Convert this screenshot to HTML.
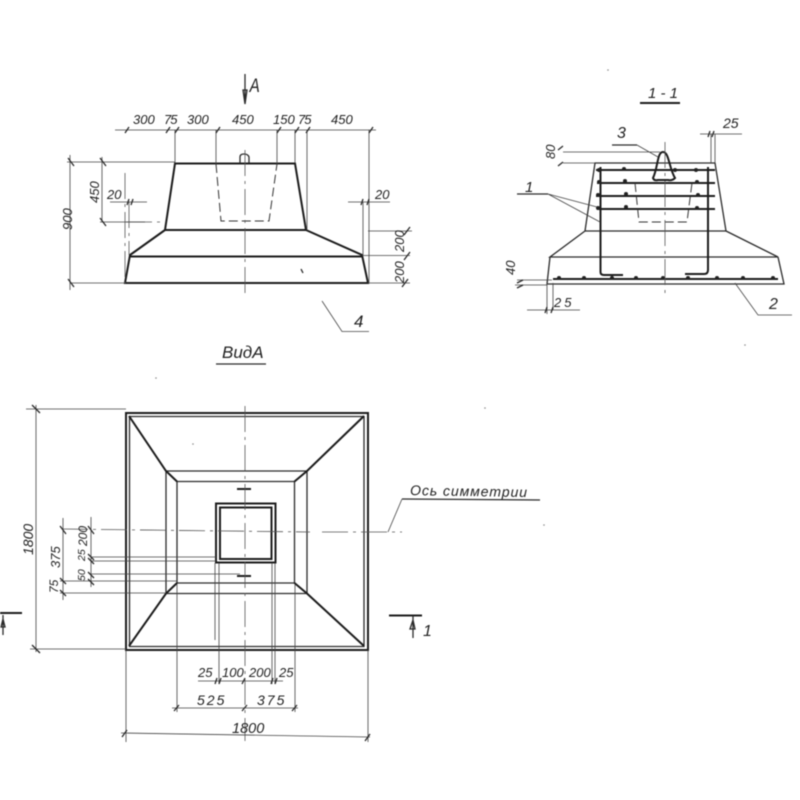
<!DOCTYPE html>
<html><head><meta charset="utf-8"><style>
html,body{margin:0;padding:0;background:#fff}
svg{display:block;filter:blur(.4px);font-size:13px}
text{font-family:"Liberation Sans",sans-serif;font-style:italic;fill:#222}
.h{stroke:#1c1c1c;stroke-width:2;fill:none}
.m{stroke:#2a2a2a;stroke-width:1.3;fill:none}
.t{stroke:#444;stroke-width:.8;fill:none}
.d{stroke:#333;stroke-width:1;fill:none;stroke-dasharray:9 4}
.c{stroke:#555;stroke-width:.8;fill:none;stroke-dasharray:26 5 3 5}
</style></head><body>
<svg width="800" height="800" viewBox="0 0 800 800" xmlns="http://www.w3.org/2000/svg">
<!-- FRONT VIEW -->
<path class="h" d="M175 163.5H295L306 230H165ZM165 230L130 255L125 283H368L362 255L306 230M130 256.5H362"/>
<path class="m" d="M240 163v-6q0-3 4-3t5 3v6"/>
<path class="d" d="M216 164L221 221H269L277 164"/>
<path class="c" d="M245 150V295M126 222H165"/>
<path class="c" d="M125 173V283M129 202V255"/>
<path class="m" d="M245 74V104M247 90l-2 14-2-14z"/>
<text x="312" y="92" font-size="19" transform="scale(.8 1)">A</text>
<path class="t" d="M115 130H376M175 130V163M216 130V164M277 130V164M295 130V163M307 130V230M369 130V283M67 162H175M100 222H145M70 283H126M368 231H412M362 255.5H410M368 283H410M70 155V290M102 157V222M110 202H147M348 202H390M363 202V255"/>
<path class="m" d="M125 133l4-6M166 133l4-6M175 133l4-6M216 133l4-6M277 133l4-6M295 133l4-6M306 133l4-6M369 133l4-6M68 158l6 8M100 158l6 8M100 218l6 8M68 279l6 8M127 205l2-6M131 205l2-6M361 205l2-6M367 205l2-6M404 235l6-8M404 260l6-8M402 287l6-8"/>
<text x="133" y="124">300</text><text x="164" y="124" letter-spacing="-1">75</text><text x="187" y="124">300</text>
<text x="232" y="124">450</text><text x="273" y="124">150</text><text x="298" y="124" letter-spacing="-1">75</text><text x="331" y="124">450</text>
<text transform="translate(99 203) rotate(-90)">450</text>
<text transform="translate(72 230) rotate(-90)">900</text>
<text x="107" y="199">20</text><text x="375" y="199">20</text>
<text transform="translate(404 252) rotate(-90)">200</text>
<text transform="translate(404 283) rotate(-90)">200</text>
<path class="t" d="M322 301L342 331.5H369"/>
<text x="354" y="327" font-size="17">4</text>
<path class="m" d="M301 269l2 4"/>
<!-- VIEW A TITLE -->
<text x="222" y="358" font-size="17">ВидА</text>
<path class="m" d="M216 364H266" stroke-width="1.5"/>
<!-- SECTION 1-1 -->
<text x="648" y="98" font-size="15">1 - 1</text>
<path class="h" d="M640 103H680"/>
<path class="m" d="M595 163H715L726 231H585ZM585 231L550 257H778L726 231M550 257L547 284H784L778 257"/>
<path class="h" d="M596 170H715M597 183H715M596 196H715M597 209H715" stroke-width="1.5"/>
<path class="h" d="M600.5 167V272Q600.5 275 604 275H623M708 167V270Q708 274 704 274H685M553 279H778" stroke-width="1.6"/>
<path class="h" d="M653 178C658 168 657 152 663 152C669 152 669 168 675 178Q672 181 668 180H658Q654 181 653 178Z" stroke-width="1.5"/>
<g fill="#222"><circle cx="599" cy="170" r="2"/><circle cx="624" cy="169" r="2"/><circle cx="675" cy="170" r="2"/><circle cx="696" cy="170" r="2"/><circle cx="599" cy="182" r="2"/><circle cx="625" cy="181" r="2"/><circle cx="697" cy="182" r="2"/><circle cx="598" cy="195" r="2"/><circle cx="626" cy="194" r="2"/><circle cx="698" cy="195" r="2"/><circle cx="598" cy="208" r="2"/><circle cx="626" cy="207" r="2"/><circle cx="697" cy="208" r="2"/><circle cx="559" cy="278" r="2"/><circle cx="584" cy="278" r="2"/><circle cx="612" cy="278" r="2"/><circle cx="636" cy="278" r="2"/><circle cx="663" cy="278" r="2"/><circle cx="688" cy="278" r="2"/><circle cx="717" cy="278" r="2"/><circle cx="743" cy="278" r="2"/><circle cx="773" cy="278" r="2"/></g>
<path class="d" d="M635 183L639 222H687L692 183"/>
<path class="c" d="M665 142V293"/>
<path class="t" d="M563 152H660M563 163H595M637 145L658 157M700 134H742M711 134V163M715 134V163M517 280H552M515 285H547M547 283V314M553 283V310M527 310H580M735 283L758 315H792"/>
<path class="m" d="M612 145H637" stroke-width="1.6"/>
<path class="m" d="M517 194H548"/>
<path class="t" d="M548 194L597 207M548 194L600 222"/>
<path class="m" d="M558 150l5-4M558 166l5-4M708 137l2-6M712 137l2-6M517 283l6-3M517 288l6-3M545 313l2-6M551 313l2-6"/>
<text x="617" y="138" font-size="16">3</text>
<text transform="translate(555 159) rotate(-90)">80</text>
<text x="723" y="128" font-size="14">25</text>
<text x="525" y="192" font-size="15">1</text>
<text transform="translate(515 275) rotate(-90)">40</text>
<text x="554" y="307" letter-spacing="3">25</text>
<text x="769" y="309" font-size="16">2</text>
<!-- PLAN VIEW -->
<path class="h" d="M126 413H368V650H126Z"/>
<path class="m" d="M129.5 416.5H364V646.5H129.5Z"/>
<path class="m" d="M166 471H307V593.5H166ZM177 481.5H294.5V583H177Z" stroke-width="1.5"/>
<path class="h" d="M129 416L166 471L177 481.5M364 416L307 471L294.5 481.5M129 646L166 593.5L177 583M364 646L307 593.5L294.5 583"/>
<path class="h" d="M216 503.5H275.5V562.5H216ZM220 507.5H271.5V559H220Z" stroke-width="1.6"/>
<path class="h" d="M237 489H251M237 576H251" stroke-width="1.6"/>
<path class="c" d="M245 406V741"/>
<path class="c" d="M322 532H402M62 529L310 532"/>
<path class="t" d="M26 409H126M30 649H126M36 405V652M63 518V600M91 517V587M91 557H216M91 561H216M91 574H240M60 581H177M60 593H166M126 650V742M368 650V742M177 584V712M295 584V712M215 563V640M219 563V684M272 563V684M275 563V684M198 681H283M172 708H298M121 733L370 737"/>
<path class="m" d="M32 405l8 8M32 645l8 8M60 526l6 8M88 526l6 8M88 554l6 6M88 558l6 6M88 572l6 6M88 579l6 6M60 578l6 6M60 590l6 6M215 684l2-6M219 684l2-6M242 684l3-6M271 684l2-6M275 684l2-6M174 711l5-6M242 711l5-6M292 711l5-6M122 737l5-7M365 741l5-7"/>
<text transform="translate(33 555) rotate(-90)" font-size="14">1800</text>
<text transform="translate(60 568) rotate(-90)">375</text>
<text transform="translate(87 546) rotate(-90)" font-size="12">200</text>
<text transform="translate(85 561) rotate(-90)" font-size="10.5">25</text>
<text transform="translate(85 581) rotate(-90)" font-size="10.5">50</text>
<text transform="translate(58 593) rotate(-90)" font-size="12">75</text>
<text x="198" y="677">25</text><text x="222" y="677">100</text><text x="249" y="677">200</text><text x="279" y="677">25</text>
<text x="197" y="705" font-size="14" letter-spacing="2">525</text><text x="257" y="705" font-size="14" letter-spacing="2">375</text>
<text x="232" y="733" font-size="14.5">1800</text>
<text x="410" y="495" font-size="14" textLength="117" lengthAdjust="spacing" transform="rotate(1 410 495)">Ось симметрии</text>
<path class="m" d="M402 499L540 500"/>
<path class="t" d="M402 499L388 532"/>
<path class="h" d="M0 613H22" stroke-width="1.5"/>
<path class="m" d="M3 615V635M3 619l-2 8h4z"/>
<path class="h" d="M389 615.5H422" stroke-width="1.5"/>
<path class="m" d="M413 616V638M413 620l-3 9h5z"/>
<text x="423" y="636" font-size="16">1</text>
<g fill="#888"><circle cx="193" cy="444" r=".8"/><circle cx="608" cy="70" r=".8"/><circle cx="485" cy="408" r=".8"/><circle cx="544" cy="525" r=".8"/><circle cx="745" cy="345" r=".8"/><circle cx="156" cy="378" r=".8"/></g>
</svg>
</body></html>
